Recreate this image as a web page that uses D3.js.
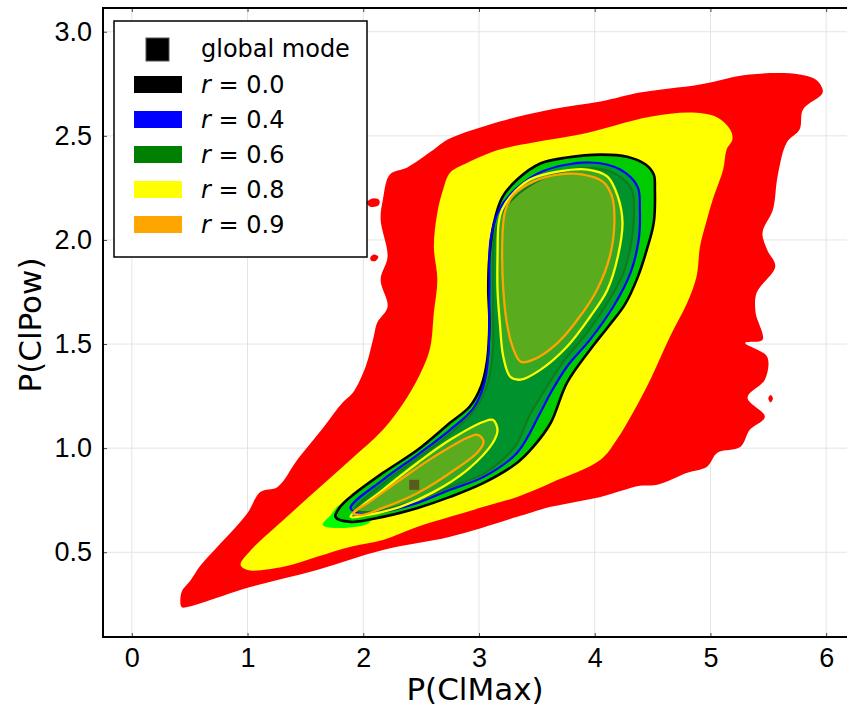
<!DOCTYPE html>
<html>
<head>
<meta charset="utf-8">
<script src="https://cdn.jsdelivr.net/npm/d3@7"></script>
<style>
  body { margin: 0; background: #fff; }
  svg { display: block; font-family: "DejaVu Sans", sans-serif; }
  .grid line { stroke: #e4e4e4; stroke-width: 1; }
  .axis text { font-size: 27px; fill: #000; }
  .axis line { stroke: #444; }
  .axis path { display: none; }
  .legendText { font-size: 24px; }
</style>
</head>
<body>
<script>
(function(){

    // tick values
    var xTicks = [0, 1, 2, 3, 4, 5, 6];
    var yTicks = [0.5, 1.0, 1.5, 2.0, 2.5, 3.0];

    // outer region (red), data coords [P(ClMax), P(ClPow)]
    var redRegion = [
        [0.43,0.237],[0.43,0.309],[0.51,0.367],[0.59,0.434],[0.74,0.526],[1.00,0.689],
        [1.11,0.790],[1.26,0.814],[1.43,0.944],[1.66,1.103],[1.82,1.218],[1.91,1.266],
        [2.02,1.391],[2.09,1.535],[2.12,1.602],[2.21,1.679],[2.15,1.809],[2.21,1.920],
        [2.15,2.098],[2.17,2.194],[2.23,2.314],[2.38,2.348],[2.61,2.434],[2.73,2.482],
        [3.18,2.569],[3.62,2.627],[4.05,2.665],[4.39,2.708],[4.91,2.747],[5.34,2.795],
        [5.77,2.795],[5.92,2.766],[5.97,2.708],[5.80,2.627],[5.77,2.530],[5.66,2.468],
        [5.58,2.305],[5.54,2.146],[5.45,2.035],[5.49,1.953],[5.56,1.872],[5.40,1.747],
        [5.39,1.651],[5.45,1.521],[5.30,1.506],[5.49,1.439],[5.47,1.329],[5.32,1.242],
        [5.47,1.151],[5.34,1.088],[5.26,1.007],[5.06,0.978],[4.97,0.911],[4.80,0.882],
        [4.54,0.824],[4.39,0.819],[4.05,0.766],[3.62,0.718],[3.33,0.670],[2.75,0.574],
        [2.17,0.511],[1.60,0.415],[1.03,0.334],[0.48,0.237]
    ];
    var redIslands = [
        [[2.03,2.18],[2.09,2.20],[2.14,2.19],[2.13,2.165],[2.06,2.16]],
        [[2.06,1.915],[2.09,1.93],[2.13,1.92],[2.11,1.90],[2.07,1.90]],
        [[5.50,1.24],[5.52,1.255],[5.54,1.24],[5.52,1.22]]
    ];

    // yellow region
    var yellowRegion = [
        [0.94,0.44],[1.03,0.511],[1.31,0.655],[1.60,0.800],[1.89,0.944],[2.17,1.088],
        [2.38,1.245],[2.52,1.391],[2.58,1.487],[2.61,1.650],[2.64,1.809],[2.61,1.968],
        [2.64,2.131],[2.69,2.242],[2.75,2.323],[2.90,2.371],[3.18,2.434],[3.47,2.468],
        [3.87,2.506],[4.48,2.592],[4.85,2.612],[5.06,2.588],[5.17,2.530],[5.19,2.482],
        [5.14,2.434],[5.11,2.338],[5.02,2.194],[4.97,2.098],[4.91,1.968],[4.88,1.824],
        [4.80,1.699],[4.65,1.535],[4.48,1.329],[4.33,1.170],[4.19,1.040],[4.05,0.944],
        [3.62,0.833],[3.33,0.766],[3.04,0.718],[2.75,0.670],[2.47,0.622],[2.17,0.559],
        [1.89,0.526],[1.60,0.478],[1.31,0.430],[1.00,0.415]
    ];

    // bright tip just outside r = 0.0
    var limeTip = [
        [1.65,0.631],[1.72,0.679],[1.80,0.727],[2.06,0.703],[2.06,0.646],[1.85,0.617]
    ];

    // r = 0.0
    var blackContour = [
        [1.76,0.670],[1.80,0.718],[1.89,0.766],[2.17,0.881],[2.47,0.992],[2.75,1.122],
        [2.92,1.200],[3.02,1.300],[3.07,1.420],[3.09,1.603],[3.08,1.761],[3.09,1.920],
        [3.13,2.083],[3.20,2.203],[3.33,2.290],[3.53,2.367],[3.76,2.396],[4.05,2.410],
        [4.28,2.400],[4.44,2.362],[4.51,2.314],[4.52,2.242],[4.51,2.083],[4.45,1.953],
        [4.37,1.819],[4.26,1.689],[4.13,1.593],[3.96,1.473],[3.76,1.314],[3.62,1.122],
        [3.47,1.007],[3.33,0.930],[3.04,0.833],[2.75,0.766],[2.47,0.713],[2.17,0.670],
        [1.89,0.646]
    ];

    // r = 0.4
    var blueContour = [
        [1.89,0.713],[2.17,0.848],[2.47,0.968],[2.75,1.088],[2.95,1.190],[3.04,1.300],
        [3.08,1.440],[3.09,1.761],[3.10,2.001],[3.17,2.140],[3.32,2.245],[3.55,2.330],
        [3.96,2.372],[4.22,2.338],[4.37,2.256],[4.39,2.146],[4.38,2.001],[4.31,1.843],
        [4.16,1.679],[3.96,1.521],[3.76,1.391],[3.62,1.266],[3.53,1.170],[3.33,0.978],
        [3.04,0.862],[2.75,0.800],[2.47,0.737],[2.17,0.694],[1.98,0.684]
    ];

    // r = 0.6
    var greenContour = [
        [1.93,0.705],[2.17,0.830],[2.47,0.952],[2.75,1.070],[2.97,1.190],[3.08,1.320],
        [3.12,1.480],[3.12,1.761],[3.13,2.001],[3.20,2.130],[3.35,2.225],[3.62,2.310],
        [3.96,2.345],[4.19,2.314],[4.32,2.242],[4.34,2.136],[4.32,2.001],[4.25,1.843],
        [4.10,1.689],[3.92,1.545],[3.73,1.415],[3.57,1.280],[3.44,1.160],[3.31,1.007],
        [3.04,0.877],[2.75,0.814],[2.47,0.752],[2.17,0.703],[1.98,0.694]
    ];

    // r = 0.8 (two lobes)
    var yellowUpper = [
        [3.17,2.083],[3.16,1.920],[3.16,1.761],[3.18,1.603],[3.21,1.439],[3.27,1.343],
        [3.36,1.329],[3.53,1.376],[3.76,1.487],[3.96,1.631],[4.11,1.761],[4.20,1.920],
        [4.24,2.083],[4.20,2.208],[4.11,2.304],[3.94,2.338],[3.68,2.328],[3.44,2.290],
        [3.27,2.208],[3.20,2.146]
    ];
    var yellowLower = [
        [1.89,0.670],[2.17,0.800],[2.47,0.930],[2.75,1.040],[3.04,1.127],[3.12,1.136],
        [3.16,1.088],[3.12,1.026],[2.90,0.896],[2.61,0.790],[2.32,0.718],[2.04,0.679]
    ];

    // r = 0.9 (two lobes)
    var orangeUpper = [
        [3.21,2.083],[3.20,1.920],[3.21,1.761],[3.24,1.603],[3.29,1.487],[3.36,1.415],
        [3.47,1.425],[3.68,1.506],[3.87,1.631],[4.02,1.761],[4.13,1.920],[4.17,2.083],
        [4.15,2.208],[4.07,2.280],[3.90,2.314],[3.68,2.314],[3.47,2.280],[3.30,2.218],
        [3.23,2.146]
    ];
    var orangeLower = [
        [1.91,0.689],[2.04,0.737],[2.32,0.848],[2.61,0.958],[2.90,1.050],[2.99,1.064],
        [3.04,1.031],[2.99,0.982],[2.75,0.881],[2.47,0.785],[2.17,0.713],[1.98,0.679]
    ];

    var globalMode = [2.44, 0.824];

    var legendLabels = ["0.0", "0.4", "0.6", "0.8", "0.9"];
    var legendColors = ["#000000", "#0000ff", "#008000", "#ffff00", "#ffa500"];

    var width = 847,
        height = 709,
        plotLeft = 103,
        plotRight = 847,
        plotTop = 8,
        plotBottom = 637;

    var svg = d3.select("body")
        .append("svg")
        .attr("width", width)
        .attr("height", height);

    var x = d3.scaleLinear()
        .domain([-0.249, 6.18])
        .range([plotLeft, plotRight]);

    var y = d3.scaleLinear()
        .domain([0.093, 3.114])
        .range([plotBottom, plotTop]);

    // grid
    var grid = svg.append("g").attr("class", "grid");
    grid.selectAll(".gx")
        .data(xTicks)
        .enter()
        .append("line")
        .attr("x1", function(d){ return x(d); })
        .attr("x2", function(d){ return x(d); })
        .attr("y1", plotTop)
        .attr("y2", plotBottom);
    grid.selectAll(".gy")
        .data(yTicks)
        .enter()
        .append("line")
        .attr("x1", plotLeft)
        .attr("x2", plotRight)
        .attr("y1", function(d){ return y(d); })
        .attr("y2", function(d){ return y(d); });

    var closed = d3.line()
        .x(function(d){ return x(d[0]); })
        .y(function(d){ return y(d[1]); })
        .curve(d3.curveCatmullRomClosed.alpha(0.5));

    var layers = svg.append("g").attr("class", "contours");

    function fillShape(pts, color){
        layers.append("path")
            .datum(pts)
            .attr("d", closed)
            .style("fill", color)
            .style("stroke", "none");
    }
    function lineShape(pts, color, w){
        layers.append("path")
            .datum(pts)
            .attr("d", closed)
            .style("fill", "none")
            .style("stroke", color)
            .style("stroke-width", w)
            .style("stroke-linejoin", "round");
    }

    // filled bands
    fillShape(redRegion, "#ff0000");
    redIslands.forEach(function(p){ fillShape(p, "#ff0000"); });
    fillShape(yellowRegion, "#ffff00");
    fillShape(limeTip, "#00ff00");
    fillShape(blackContour, "#00cc00");
    fillShape(blueContour, "#00a030");
    fillShape(greenContour, "#00922c");
    fillShape(yellowUpper, "#36a824");
    fillShape(yellowLower, "#36a824");
    fillShape(orangeUpper, "#5aab1e");
    fillShape(orangeLower, "#5aab1e");

    // contour lines
    lineShape(blackContour, "#000000", 2.6);
    lineShape(blueContour, "#0000ff", 2.2);
    lineShape(greenContour, "#137a18", 2);
    lineShape(yellowUpper, "#ffff00", 2.3);
    lineShape(yellowLower, "#ffff00", 2.3);
    lineShape(orangeUpper, "#ffa500", 2.3);
    lineShape(orangeLower, "#ffa500", 2.3);

    // global mode marker
    svg.append("rect")
        .attr("x", x(globalMode[0]) - 5)
        .attr("y", y(globalMode[1]) - 5)
        .attr("width", 10)
        .attr("height", 10)
        .style("fill", "#5a5a1e");

    // axes
    var xAxis = d3.axisBottom(x)
        .tickValues(xTicks)
        .tickFormat(d3.format("d"))
        .tickSize(-4)
        .tickPadding(11);
    svg.append("g")
        .attr("class", "axis")
        .attr("transform", "translate(0," + plotBottom + ")")
        .call(xAxis);

    var xTop = d3.axisTop(x).tickValues(xTicks).tickSize(-4).tickFormat("");
    svg.append("g")
        .attr("class", "axis")
        .attr("transform", "translate(0," + plotTop + ")")
        .call(xTop);

    var yAxis = d3.axisLeft(y)
        .tickValues(yTicks)
        .tickFormat(d3.format(".1f"))
        .tickSize(-4)
        .tickPadding(11);
    svg.append("g")
        .attr("class", "axis")
        .attr("transform", "translate(" + plotLeft + ",0)")
        .call(yAxis);

    // frame
    svg.append("path")
        .attr("d", "M" + plotRight + "," + plotTop + "H" + plotLeft + "V" + plotBottom + "H" + plotRight)
        .style("fill", "none")
        .style("stroke", "#000")
        .style("stroke-width", 2);

    // axis titles
    svg.append("text")
        .attr("x", (plotLeft + plotRight) / 2)
        .attr("y", 700)
        .attr("text-anchor", "middle")
        .style("font-size", "31px")
        .text("P(ClMax)");

    svg.append("text")
        .attr("transform", "translate(41,325) rotate(-90)")
        .attr("text-anchor", "middle")
        .style("font-size", "31px")
        .text("P(ClPow)");

    // legend
    var legend = svg.append("g").attr("class", "legend");
    legend.append("rect")
        .attr("x", 114)
        .attr("y", 21)
        .attr("width", 253)
        .attr("height", 236)
        .style("fill", "#fff")
        .style("stroke", "#000")
        .style("stroke-width", 1.5);

    legend.append("rect")
        .attr("x", 146)
        .attr("y", 38)
        .attr("width", 23)
        .attr("height", 23)
        .style("fill", "#000")
        .style("stroke", "#555")
        .style("stroke-width", 1);
    legend.append("text")
        .attr("class", "legendText")
        .attr("x", 201)
        .attr("y", 57)
        .text("global mode");

    var rows = legend.selectAll(".row")
        .data(legendLabels)
        .enter()
        .append("g")
        .attr("class", "row")
        .attr("transform", function(d, i){ return "translate(0," + (84.5 + i * 35) + ")"; });

    rows.append("rect")
        .attr("x", 134)
        .attr("y", -8.5)
        .attr("width", 48)
        .attr("height", 17)
        .style("fill", function(d, i){ return legendColors[i]; });

    var t = rows.append("text")
        .attr("class", "legendText")
        .attr("x", 201)
        .attr("y", 8.5);
    t.append("tspan").style("font-style", "italic").text("r");
    t.append("tspan").text(function(d){ return " = " + d; });

})();
</script>
</body>
</html>
